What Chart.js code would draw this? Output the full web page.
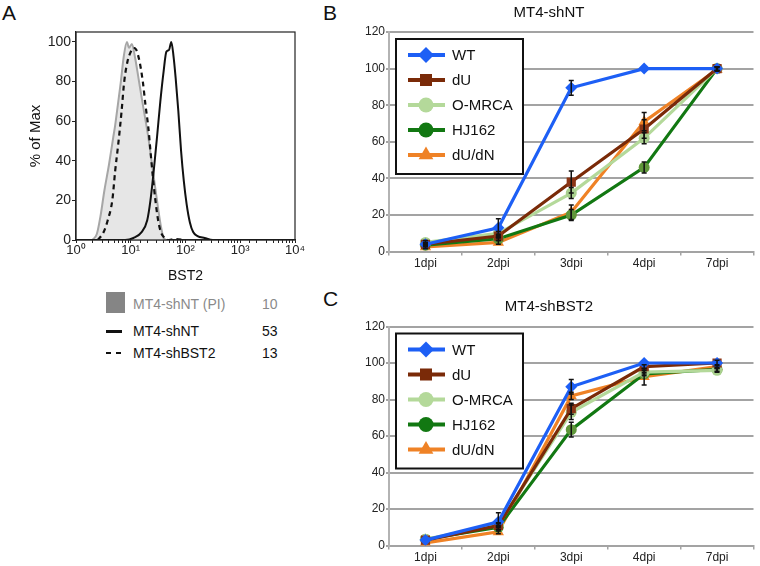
<!DOCTYPE html>
<html>
<head>
<meta charset="utf-8">
<script src="https://cdn.jsdelivr.net/npm/chart.js@4.4.1/dist/chart.umd.min.js"></script>
<style>
  body { margin: 0; width: 760px; height: 566px; overflow: hidden; background: #fff;
         font-family: "Liberation Sans", Arial, sans-serif; position: relative; }
  canvas, .lbl { position: absolute; }
  .letter { position: absolute; font-size: 21px; color: #111; }
  .lbl { font-size: 14px; color: #111; line-height: 16px; }
</style>
</head>
<body>
<div class="letter" style="left:2px;top:1px">A</div>
<div class="letter" style="left:323px;top:1px">B</div>
<div class="letter" style="left:323px;top:287px">C</div>

<div style="position:absolute;width:310px;height:292px;left:0;top:0"><canvas id="histChart"></canvas></div>
<div style="position:absolute;width:420px;height:272px;left:340px;top:0"><canvas id="ntChart"></canvas></div>
<div style="position:absolute;width:420px;height:280px;left:340px;top:286px"><canvas id="bstChart"></canvas></div>

<!-- legend of panel A -->
<div style="position:absolute;left:106px;top:292px;width:19px;height:21px;background:#858585"></div>
<div class="lbl" style="left:133px;top:296px;color:#8a8a8a">MT4-shNT (PI)</div>
<div class="lbl" style="left:262px;top:296px;color:#8a8a8a">10</div>
<div style="position:absolute;left:106px;top:330px;width:16px;height:3px;background:#111"></div>
<div class="lbl" style="left:133px;top:323px">MT4-shNT</div>
<div class="lbl" style="left:262px;top:323px">53</div>
<div style="position:absolute;left:106px;top:352px;width:5px;height:2px;background:#111"></div>
<div style="position:absolute;left:116px;top:352px;width:5px;height:2px;background:#111"></div>
<div class="lbl" style="left:133px;top:345px">MT4-shBST2</div>
<div class="lbl" style="left:262px;top:345px">13</div>

<script>
// ---- panel A : BST2 histograms (x = fluorescence, y = % of max) ----
const piX    = [2.0, 2.4, 2.8, 3.3, 4.0, 4.8, 5.2, 5.8, 6.6, 7.4, 8.5, 9.3, 10.5, 12, 13.8, 15.8, 18.2, 20.9, 24, 27.5, 31.6, 35.5, 39.8, 44.7];
const piY    = [0, 3, 12, 25, 38, 52, 58, 68, 80, 92, 100, 97, 99, 92, 82, 72, 62, 52, 40, 28, 16, 7, 1, 0];
const shbstX = [2.5, 3.2, 3.8, 4.6, 5.2, 6.0, 6.8, 7.6, 8.7, 10, 11.2, 12.6, 14.5, 16.6, 18.6, 20.9, 22.9, 25.1, 28.2, 31.6, 35.5, 41.7, 50, 63, 100];
const shbstY = [0, 4, 10, 20, 35, 50, 65, 80, 90, 95, 97, 96, 90, 80, 68, 57, 45, 33, 20, 10, 4, 1, 0, 0.5, 0];
const shntX  = [1, 7.9, 11.2, 15.8, 20, 22.9, 26.3, 30.2, 34.7, 39.8, 44.7, 50.1, 55, 60.3, 66, 74, 83, 93, 105, 120, 138, 166, 224, 316, 10000];
const shntY  = [0, 0, 1, 4, 10, 20, 35, 52, 70, 85, 95, 96, 100, 93, 82, 65, 45, 30, 18, 9, 4, 2, 1, 0, 0];
const histYTicks = [0, 20, 40, 60, 80, 100];

// ---- panels B / C : % infected cells ----
const days = ['1dpi', '2dpi', '3dpi', '4dpi', '7dpi'];
const seriesNames = ['WT', 'dU', 'O-MRCA', 'HJ162', 'dU/dN'];

const ntWT    = [4, 13, 89.5, 100, 100];
const ntDU    = [4, 8.5, 38, 67, 100];
const ntOMRCA = [5, 10, 32, 62, 100];
const ntHJ    = [3.5, 7, 20, 46, 100];
const ntDUDN  = [2.5, 5, 21.5, 71, 99.5];
const ntErr   = [[1, 5, 4, 0.5, 0.5], [1, 1, 6, 5, 1], [1, 1, 3, 3, 1], [1, 1, 3, 3, 1], [1, 1, 4, 5, 1]];

const bstWT    = [3, 13, 87, 100, 100];
const bstDU    = [3, 11, 75, 98, 100];
const bstOMRCA = [3.5, 11.5, 73, 95, 96];
const bstHJ    = [3.5, 10, 63.5, 94, 96.5];
const bstDUDN  = [1.5, 7.5, 82, 92.5, 98];
const bstErr   = [[0.5, 5, 4, 0.5, 0.5], [0.5, 1, 3, 1, 1.5], [0.5, 1, 4, 1, 1], [0.5, 1, 4, 1, 1], [0.5, 1, 2, 4.5, 1]];

const lineColors  = ['#1d5ff5', '#7a2a08', '#b4d99a', '#127812', '#ef8226'];
const pointColors = ['#1d5ff5', '#8b3516', '#a9d08e', '#5f963a', '#ef8226'];
const legendPoint = ['#1d5ff5', '#7a2a08', '#b4d99a', '#127812', '#ef8226'];
const pointStyles = ['rectRot', 'rect', 'circle', 'circle', 'triangle'];
const pointSizes  = [6, 6.5, 5.5, 5.5, 6.5];

const FONT = '"Liberation Sans", Arial, sans-serif';
Chart.defaults.font.family = FONT;
Chart.defaults.color = '#222';

const sup = ['\u2070', '\u00b9', '\u00b2', '\u00b3', '\u2074'];

// frame around the histogram plot
const frame = {
  id: 'frame',
  afterDraw(chart) {
    const a = chart.chartArea, ctx = chart.ctx;
    ctx.save();
    ctx.strokeStyle = '#222';
    ctx.lineWidth = 1.2;
    ctx.strokeRect(a.left, a.top, a.right - a.left, a.bottom - a.top);
    ctx.restore();
  }
};

new Chart(document.getElementById('histChart'), {
  type: 'line',
  data: {
    datasets: [
      { data: shntX.map((x, i) => ({ x, y: shntY[i] })), borderColor: '#111', borderWidth: 2, order: 1 },
      { data: shbstX.map((x, i) => ({ x, y: shbstY[i] })), borderColor: '#111', borderWidth: 2.2, borderDash: [5, 4], order: 2 },
      { data: piX.map((x, i) => ({ x, y: piY[i] })), borderColor: '#a6a6a6', backgroundColor: '#e6e6e6', fill: 'origin', borderWidth: 2, order: 3 }
    ]
  },
  options: {
    responsive: true,
    maintainAspectRatio: false,
    animation: false,
    layout: { padding: { top: 32, right: 15, left: 0, bottom: 0 } },
    elements: { point: { radius: 0 }, line: { cubicInterpolationMode: 'monotone' } },
    plugins: { legend: { display: false }, tooltip: { enabled: false } },
    scales: {
      x: {
        type: 'logarithmic', min: 1, max: 10000,
        afterFit: (s) => { s.height = 52; },
        border: { color: '#222', width: 1.2 },
        grid: { drawOnChartArea: false, color: '#222', tickLength: 3 },
        ticks: {
          autoSkip: false, maxRotation: 0, padding: 0, color: '#222', font: { size: 13 },
          callback: (v) => {
            const p = Math.log10(v);
            return Math.abs(p - Math.round(p)) < 1e-6 ? '10' + sup[Math.round(p)] : '';
          }
        },
        title: { display: true, text: 'BST2', font: { size: 14 }, color: '#111', padding: { top: 4, bottom: 7 } }
      },
      y: {
        min: 0, max: 105,
        afterFit: (s) => { s.width = 76; },
        afterBuildTicks: (s) => { s.ticks = histYTicks.map(v => ({ value: v })); },
        border: { color: '#222', width: 1.2 },
        grid: { drawOnChartArea: false, color: '#222', tickLength: 4 },
        ticks: { padding: 1, font: { size: 14 }, color: '#222' },
        title: { display: true, text: '% of Max', font: { size: 15 }, color: '#111', padding: { top: 27, bottom: 0 } }
      }
    }
  },
  plugins: [frame]
});

// error bars, read from dataset.errorBars
const errorBars = {
  id: 'errorBars',
  afterDatasetsDraw(chart) {
    const ctx = chart.ctx, ys = chart.scales.y;
    ctx.save();
    ctx.strokeStyle = '#111';
    ctx.lineWidth = 1.5;
    chart.data.datasets.forEach((ds, i) => {
      const meta = chart.getDatasetMeta(i);
      meta.data.forEach((pt, j) => {
        const e = ds.errorBars[j];
        if (!e || e < 1) return;
        const top = ys.getPixelForValue(ds.data[j] + e);
        const bot = ys.getPixelForValue(ds.data[j] - e);
        ctx.beginPath();
        ctx.moveTo(pt.x, top); ctx.lineTo(pt.x, bot);
        ctx.moveTo(pt.x - 2.5, top); ctx.lineTo(pt.x + 2.5, top);
        ctx.moveTo(pt.x - 2.5, bot); ctx.lineTo(pt.x + 2.5, bot);
        ctx.stroke();
      });
    });
    ctx.restore();
  }
};

// boxed legend in the upper left of the plot
const boxLegend = {
  id: 'boxLegend',
  afterDraw(chart) {
    const ctx = chart.ctx, a = chart.chartArea;
    const x0 = a.left + 7, y0 = a.top + 7;
    ctx.save();
    ctx.fillStyle = '#fff';
    ctx.fillRect(x0, y0, 127, 135);
    ctx.strokeStyle = '#111';
    ctx.lineWidth = 2;
    ctx.strokeRect(x0, y0, 127, 135);
    chart.data.datasets.forEach((ds, i) => {
      const y = y0 + 16 + i * 25;
      ctx.strokeStyle = ds.borderColor;
      ctx.lineWidth = 4;
      ctx.beginPath(); ctx.moveTo(x0 + 12, y); ctx.lineTo(x0 + 49, y); ctx.stroke();
      ctx.fillStyle = legendPoint[i];
      Chart.helpers.drawPoint(ctx, { pointStyle: pointStyles[i], radius: pointSizes[i] + 2, rotation: 0, borderWidth: 0 }, x0 + 30, y);
      ctx.fillStyle = '#111';
      ctx.font = '15px ' + FONT;
      ctx.textBaseline = 'middle';
      ctx.fillText(ds.label, x0 + 56, y + 1);
    });
    ctx.restore();
  }
};

function infectionChart(id, title, titlePad, values, errs) {
  return new Chart(document.getElementById(id), {
    type: 'line',
    data: {
      labels: days,
      datasets: values.map((v, i) => ({
        label: seriesNames[i],
        data: v,
        errorBars: errs[i],
        borderColor: lineColors[i],
        backgroundColor: pointColors[i],
        pointBackgroundColor: pointColors[i],
        pointBorderWidth: 0,
        pointStyle: pointStyles[i],
        pointRadius: pointSizes[i],
        borderWidth: 3.2,
        tension: 0
      }))
    },
    options: {
      responsive: true,
      maintainAspectRatio: false,
      animation: false,
      layout: { padding: { top: 0, right: 2, left: 0, bottom: 0 } },
      plugins: {
        legend: { display: false },
        tooltip: { enabled: false },
        title: { display: true, text: title, color: '#111', font: { size: 15, weight: 'normal' }, padding: titlePad }
      },
      scales: {
        x: {
          offset: true,
          border: { color: '#a3a3a3', width: 2 },
          grid: { drawOnChartArea: false, offset: true, color: '#a3a3a3', tickLength: 4, lineWidth: 1.5 },
          ticks: { padding: 1, font: { size: 12 }, color: '#222' }
        },
        y: {
          min: 0, max: 120,
          afterFit: (s) => { s.width = 49; },
          border: { color: '#b3b3b3', width: 2 },
          grid: { color: '#a3a3a3', lineWidth: 2, tickLength: 3 },
          ticks: { stepSize: 20, padding: 1, font: { size: 12 }, color: '#222' }
        }
      }
    },
    plugins: [errorBars, boxLegend]
  });
}

infectionChart('ntChart', 'MT4-shNT', { top: 4, bottom: 10 }, [ntWT, ntDU, ntOMRCA, ntHJ, ntDUDN], ntErr);
infectionChart('bstChart', 'MT4-shBST2', { top: 12, bottom: 10.5 }, [bstWT, bstDU, bstOMRCA, bstHJ, bstDUDN], bstErr);
</script>
</body>
</html>
